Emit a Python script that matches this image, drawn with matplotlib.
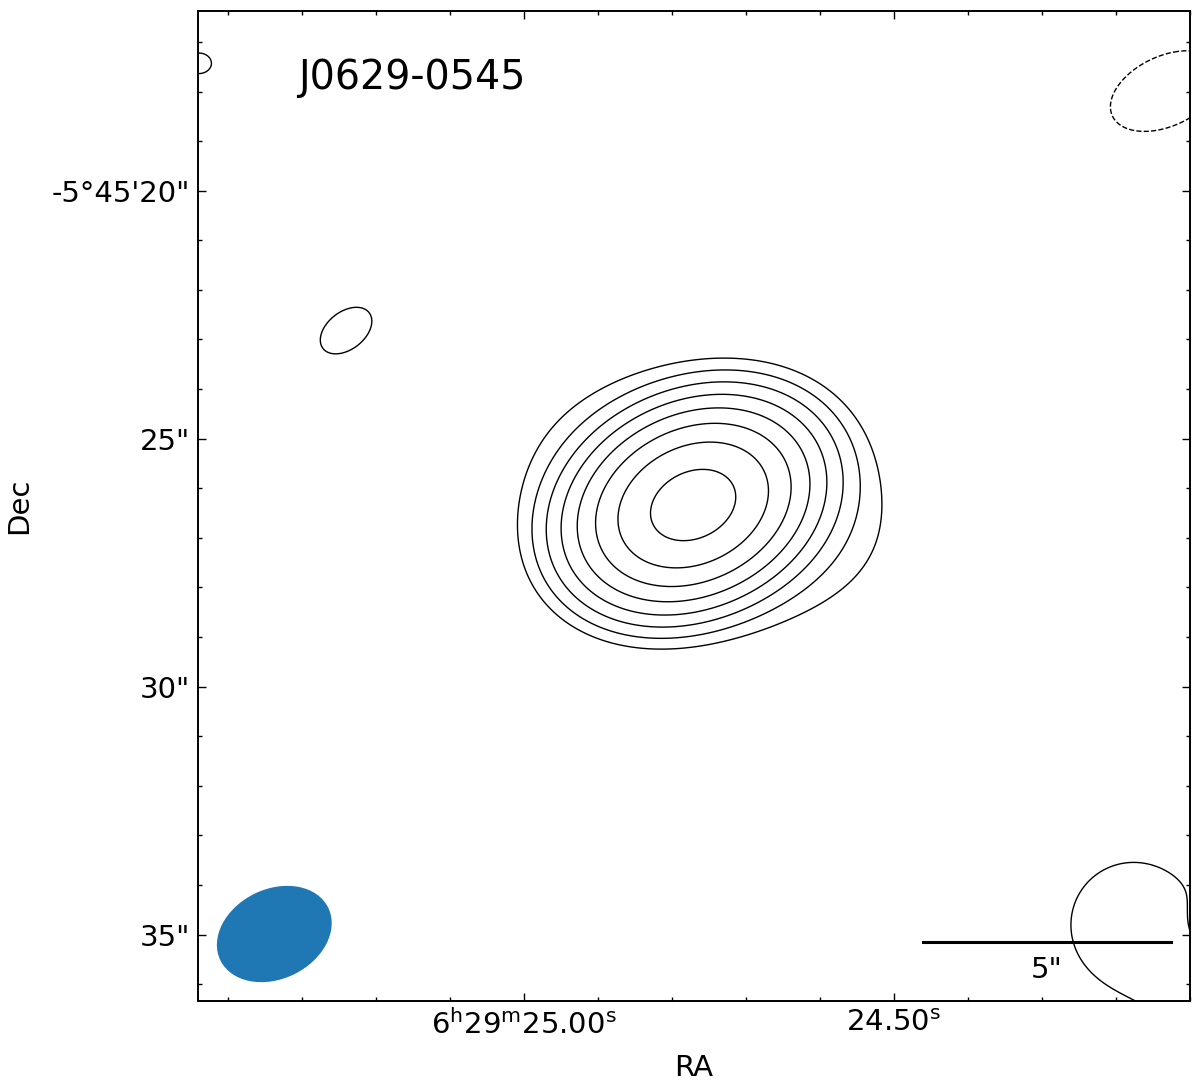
import matplotlib
matplotlib.use("Agg")
import matplotlib.pyplot as plt
from matplotlib.patches import Ellipse
import numpy as np

# source name and map centre
name = "J0629-0545"
dec0 = -5.7572          # deg, for the cos(dec) factor
ra_ref = 25.00          # s (6h29m), reference for the x offsets

# model components (RA in s of 6h29m, Dec in arcsec below -5d45m)
comp_ra = [24.7716, 24.7446, 25.2405, 25.4392, 24.1325, 24.1770, 24.0527, 24.0662]
comp_dec = [26.34, 26.24, 22.82, 17.43, 17.99, 34.80, 36.30, 34.85]
comp_amp = [175.0, 3.0, 1.3, 1.5, -2.5, 1.75, 1.3, -1.0]      # in units of rms
comp_smaj = [1.10, 2.20, 0.81, 0.28, 0.88, 1.18, 1.00, 0.42]  # arcsec (sigma)
comp_smin = [0.82, 1.42, 0.52, 0.23, 0.52, 1.18, 1.00, 0.42]
comp_ang = [26, -15, 38, 0, 25, 0, 0, 0]                      # deg, ccw on the sky image

rms = 1.0
levels = [-1, 1, 2, 4, 8, 16, 32, 64, 128]

# beam (FWHM, arcsec) and its place
beam_ra, beam_dec = 25.3374, 34.99
beam_maj, beam_min, beam_ang = 2.42, 1.81, 26

# axes window
ra_left, ra_right = 25.4405, 24.1005
dec_top, dec_bot = 16.378, 36.338

ra_major = [25.00, 24.50]
ra_major_lab = [r"$6^{\mathrm{h}}29^{\mathrm{m}}25.00^{\mathrm{s}}$", r"$24.50^{\mathrm{s}}$"]
ra_minor = [25.40, 25.30, 25.20, 25.10, 24.90, 24.80, 24.70, 24.60, 24.40, 24.30, 24.20, 24.10]
dec_major = [20, 25, 30, 35]
dec_major_lab = ["-5°45'20\"", "25\"", "30\"", "35\""]
dec_minor = [17, 18, 19, 21, 22, 23, 24, 26, 27, 28, 29, 31, 32, 33, 34, 36]

bar_len = 5.0   # arcsec
bar_dec = 35.15

sec2as = 15.0 * np.cos(np.radians(dec0))


def xoff(ra):
    return (ra_ref - np.asarray(ra)) * sec2as


# model image
xx = np.linspace(-8, 15, 700)
yy = np.linspace(14, 38, 700)
X, Y = np.meshgrid(xx, yy)
Z = np.zeros_like(X)
for ra, de, a, s1, s2, th in zip(comp_ra, comp_dec, comp_amp, comp_smaj, comp_smin, comp_ang):
    u = X - xoff(ra)
    v = -(Y - de)
    t = np.radians(th)
    p = u * np.cos(t) + v * np.sin(t)
    q = -u * np.sin(t) + v * np.cos(t)
    Z += a * np.exp(-(p**2 / (2 * s1**2) + q**2 / (2 * s2**2)))

fig = plt.figure(figsize=(12, 10.85), dpi=100)
ax = fig.add_axes([198 / 1200, 83 / 1085, 992 / 1200, 992 / 1085])

ax.contour(X, Y, Z, levels=[l * rms for l in levels], colors="black", linewidths=1.0)

beam = Ellipse((xoff(beam_ra), beam_dec), beam_maj, beam_min, angle=-beam_ang,
               facecolor="#1f77b4", edgecolor="none")
ax.add_patch(beam)

xr = 13.05
ax.plot([xr - bar_len, xr], [bar_dec, bar_dec], color="black", lw=2.2)
ax.text(xr - bar_len / 2, bar_dec + 0.28, "5\"", ha="center", va="top", fontsize=21)

ax.text(0.1008, 0.9325, name, transform=ax.transAxes, ha="left", va="center", fontsize=28.5)

ax.set_xlim(xoff(ra_left), xoff(ra_right))
ax.set_ylim(dec_bot, dec_top)
ax.set_aspect("equal")

ax.set_xticks(xoff(ra_major))
ax.set_xticklabels(ra_major_lab)
ax.set_xticks(xoff(ra_minor), minor=True)
ax.set_yticks(dec_major)
ax.set_yticklabels(dec_major_lab)
ax.set_yticks(dec_minor, minor=True)

ax.tick_params(which="both", direction="in", top=True, right=True, labelsize=21, pad=6)
ax.tick_params(which="major", length=6, width=1.0)
ax.tick_params(which="minor", length=3, width=1.0)
for s in ax.spines.values():
    s.set_linewidth(1.4)

ax.set_xlabel("RA", fontsize=21, labelpad=10)
ax.set_ylabel("Dec", fontsize=21, labelpad=13)

fig.savefig("out.png", dpi=100)
